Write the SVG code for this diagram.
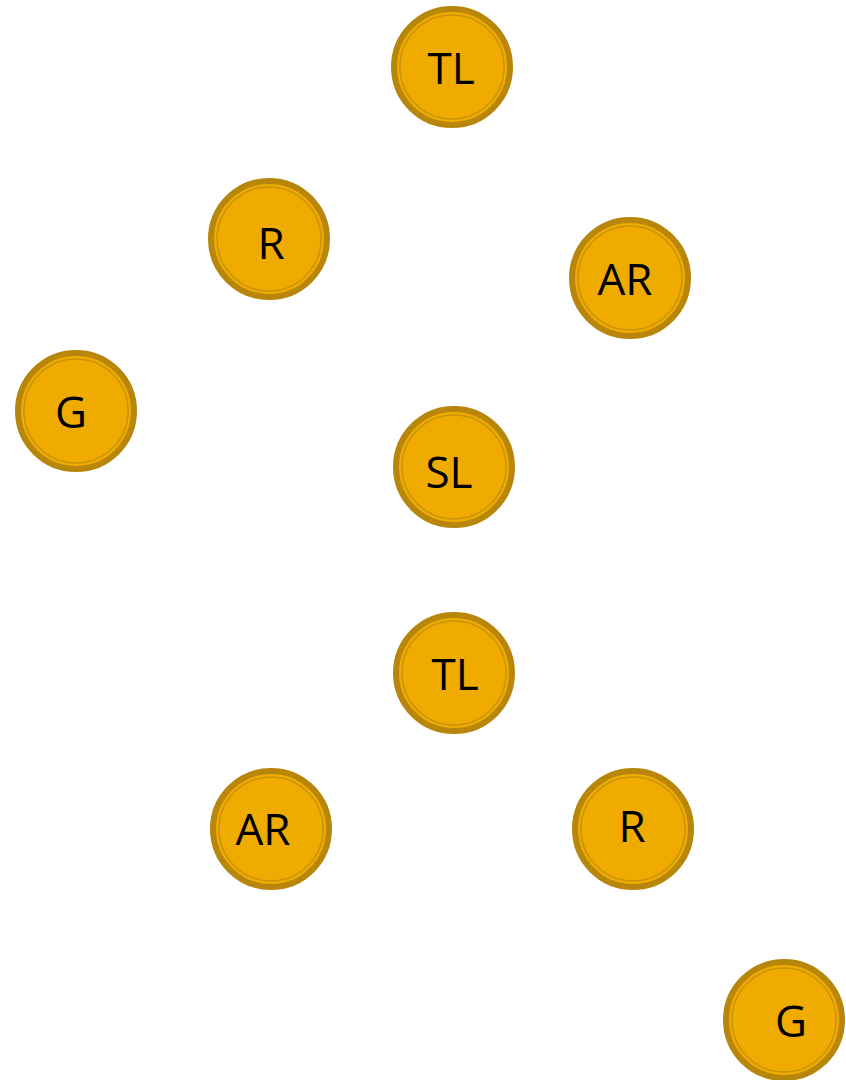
<svg xmlns="http://www.w3.org/2000/svg" width="846" height="1080" viewBox="0 0 846 1080">
<style>
.outer{fill:#f0ab00;stroke:#b8860b;stroke-width:6}
.inner{fill:none;stroke:#c8920a;stroke-width:1.5}
.lbl{font-family:"Open Sans","Noto Sans",sans-serif;font-size:44px;fill:#000;text-anchor:middle}
</style>
<rect width="846" height="1080" fill="#fff"/>
<g id="connectors"></g>
<g id="n1"><circle class="outer" cx="452" cy="67" r="58"/><circle class="inner" cx="452" cy="67" r="52"/><text class="lbl" x="451" y="84">TL</text></g>
<g id="n2"><circle class="outer" cx="269" cy="239" r="58"/><circle class="inner" cx="269" cy="239" r="52"/><text class="lbl" x="271" y="259">R</text></g>
<g id="n3"><circle class="outer" cx="630" cy="278" r="58"/><circle class="inner" cx="630" cy="278" r="52"/><text class="lbl" x="625" y="295">AR</text></g>
<g id="n4"><circle class="outer" cx="76" cy="411" r="58"/><circle class="inner" cx="76" cy="411" r="52"/><text class="lbl" x="71" y="428">G</text></g>
<g id="n5"><circle class="outer" cx="454" cy="467" r="58"/><circle class="inner" cx="454" cy="467" r="52"/><text class="lbl" x="449" y="488">SL</text></g>
<g id="n6"><circle class="outer" cx="454" cy="673" r="58"/><circle class="inner" cx="454" cy="673" r="52"/><text class="lbl" x="455" y="690">TL</text></g>
<g id="n7"><circle class="outer" cx="271" cy="829" r="58"/><circle class="inner" cx="271" cy="829" r="52"/><text class="lbl" x="263" y="845">AR</text></g>
<g id="n8"><circle class="outer" cx="633" cy="829" r="58"/><circle class="inner" cx="633" cy="829" r="52"/><text class="lbl" x="632" y="842">R</text></g>
<g id="n9"><circle class="outer" cx="784" cy="1020" r="58"/><circle class="inner" cx="784" cy="1020" r="52"/><text class="lbl" x="791" y="1037">G</text></g>
</svg>
